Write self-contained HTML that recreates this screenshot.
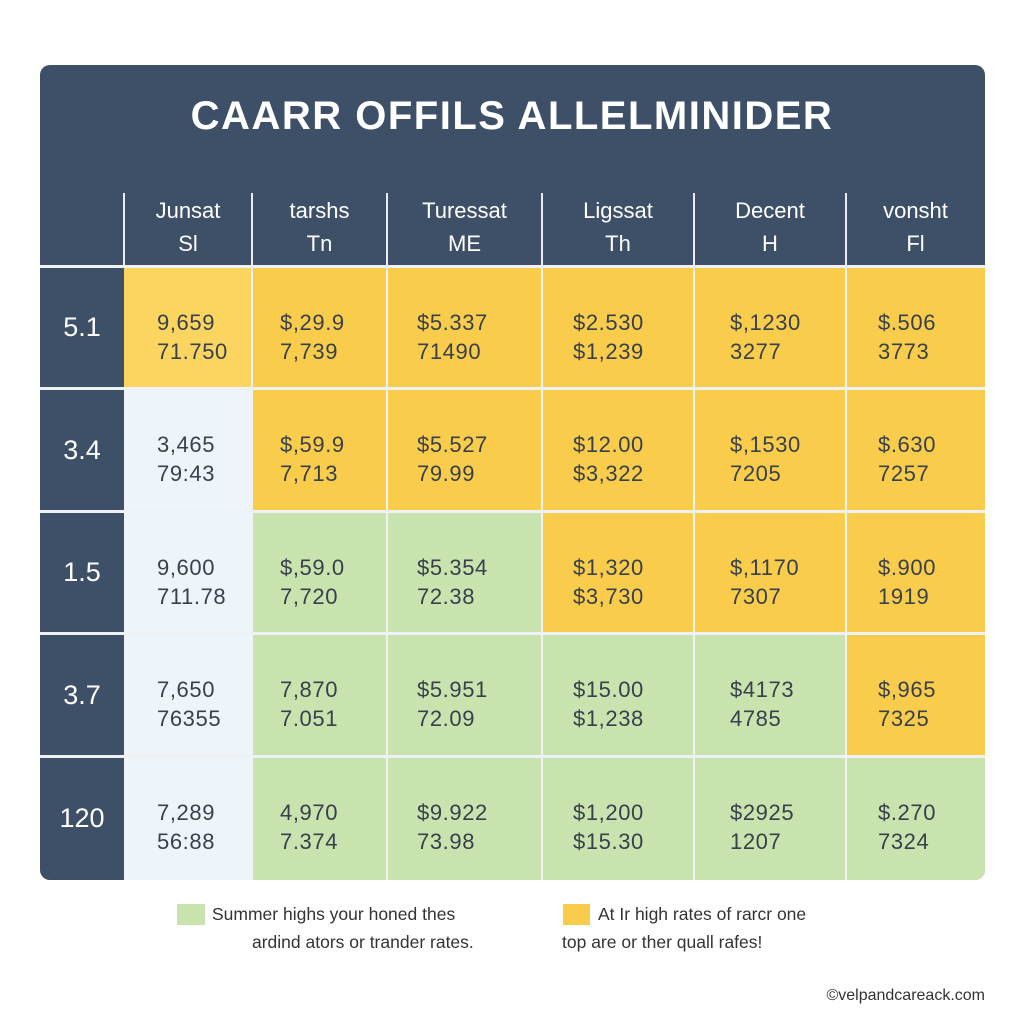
<!DOCTYPE html>
<html><head><meta charset="utf-8"><style>
*{margin:0;padding:0;box-sizing:border-box}
body{width:1024px;height:1024px;background:#fff;position:relative;font-family:"Liberation Sans","DejaVu Sans",sans-serif;overflow:hidden}
.card{position:absolute;left:40px;top:65px;width:945px;height:815px;background:#3d5068;border-radius:10px;overflow:hidden}
.title{position:absolute;left:0;top:94px;width:1024px;text-align:center;color:#fff;font-weight:bold;font-size:40px;letter-spacing:1.5px}
.h{position:absolute;color:#fff;font-size:22px;text-align:center;line-height:33px;top:194px}
.vs{position:absolute;top:193px;height:74px;width:2px;background:#e8edf2}
.c{position:absolute;font-size:22px;line-height:29px;color:#38404c;padding-top:40px;letter-spacing:0.6px}
.rl{position:absolute;left:40px;width:84px;color:#fff;font-size:27px;text-align:center;background:#3d5068}
.y{background:#f9cd4b}.ly{background:#fbd560}.b{background:#eef5fa}.g{background:#c8e3ae}
.leg{position:absolute;font-size:17.5px;color:#333;line-height:28px}
</style></head><body>
<div class="card"></div>
<div style="position:absolute;left:40px;top:265px;width:945px;height:615px;background:#eef2f4;border-radius:0 0 10px 10px"></div>
<div class="title">CAARR OFFILS ALLELMINIDER</div>
<div id="grid"></div>
<div class="leg" style="left:177px;top:904px;width:28px;height:21px;background:#c8e3ae"></div>
<div class="leg" style="left:212px;top:900px">Summer highs your honed thes</div>
<div class="leg" style="left:252px;top:928px">ardind ators or trander rates.</div>
<div class="leg" style="left:563px;top:904px;width:27px;height:21px;background:#f9cd4b"></div>
<div class="leg" style="left:598px;top:900px">At Ir high rates of rarcr one</div>
<div class="leg" style="left:562px;top:928px">top are or ther quall rafes!</div>
<div class="leg" style="right:39px;top:982px;font-size:16px">©velpandcareack.com</div>
<script>
var xs=[124,252,387,542,694,846,985],ys=[267,389,512,634,757,880];
var hd=[["Junsat","Sl"],["tarshs","Tn"],["Turessat","ME"],["Ligssat","Th"],["Decent","H"],["vonsht","Fl"]];
var rl=["5.1","3.4","1.5","3.7","120"];
var d=[
[["9,659","71.750","ly"],["$,29.9","7,739","y"],["$5.337","71490","y"],["$2.530","$1,239","y"],["$,1230","3277","y"],["$.506","3773","y"]],
[["3,465","79:43","b"],["$,59.9","7,713","y"],["$5.527","79.99","y"],["$12.00","$3,322","y"],["$,1530","7205","y"],["$.630","7257","y"]],
[["9,600","711.78","b"],["$,59.0","7,720","g"],["$5.354","72.38","g"],["$1,320","$3,730","y"],["$,1170","7307","y"],["$.900","1919","y"]],
[["7,650","76355","b"],["7,870","7.051","g"],["$5.951","72.09","g"],["$15.00","$1,238","g"],["$4173","4785","g"],["$,965","7325","y"]],
[["7,289","56:88","b"],["4,970","7.374","g"],["$9.922","73.98","g"],["$1,200","$15.30","g"],["$2925","1207","g"],["$.270","7324","g"]]];
var pad=[33,27,29,30,35,31],h="";
for(var i=0;i<6;i++){h+='<div class="h" style="left:'+xs[i]+'px;width:'+(xs[i+1]-xs[i])+'px">'+hd[i][0]+'<br>'+hd[i][1]+'</div>';
 h+='<div class="vs" style="left:'+(xs[i]-1)+'px"></div>';}
for(var r=0;r<5;r++){var t=ys[r]+1,hh=ys[r+1]-ys[r]-3,hx=hh+(r==4?2:0);
 h+='<div class="rl" style="top:'+t+'px;height:'+hx+'px;line-height:'+hh+'px'+(r==4?';border-bottom-left-radius:10px':'')+'">'+rl[r]+'</div>';
 for(var c=0;c<6;c++){var x=xs[c]+(c?1:0),w=xs[c+1]-x-(c<5?1:0);var e=d[r][c];
  h+='<div class="c '+e[2]+'" style="left:'+x+'px;top:'+t+'px;width:'+w+'px;height:'+hx+'px;padding-left:'+pad[c]+'px'+(r==4&&c==5?';border-bottom-right-radius:10px':'')+'">'+e[0]+'<br>'+e[1]+'</div>';}}
document.getElementById('grid').innerHTML=h;
</script>
</body></html>
